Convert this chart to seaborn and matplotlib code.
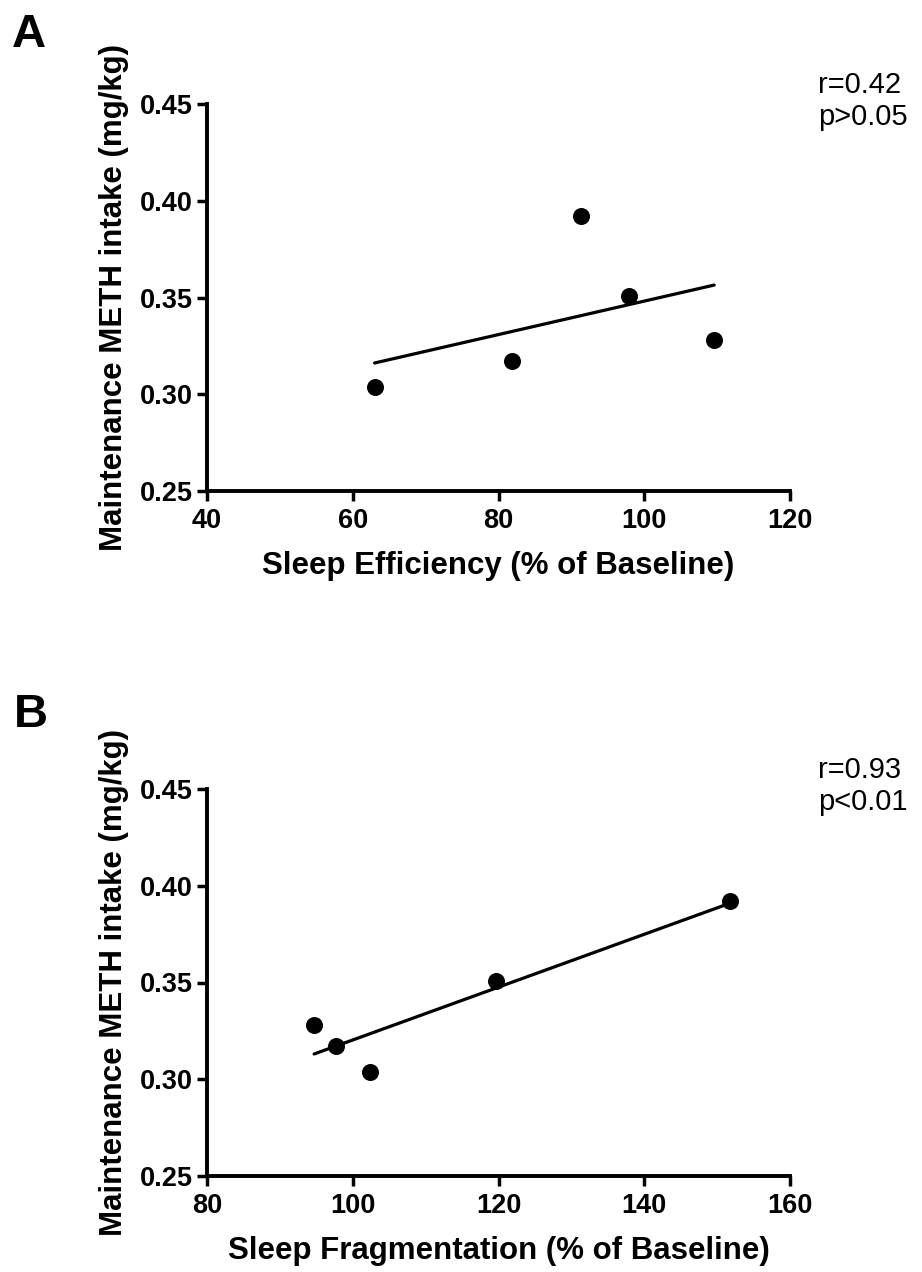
import pandas as pd
import seaborn as sns
import matplotlib.pyplot as plt

# values
meth_intake = [0.304, 0.317, 0.392, 0.351, 0.328]
sleep_efficiency = [63.0, 81.9, 91.3, 97.9, 109.6]
sleep_fragmentation = [102.4, 97.7, 151.8, 119.7, 94.7]

stats_a = ['r=0.42', 'p>0.05']
stats_b = ['r=0.93', 'p<0.01']

df = pd.DataFrame({'meth': meth_intake,
                   'efficiency': sleep_efficiency,
                   'fragmentation': sleep_fragmentation})

sns.set_style('ticks')
plt.rcParams['font.family'] = ['Liberation Sans', 'DejaVu Sans']
plt.rcParams['text.color'] = 'black'
plt.rcParams['axes.labelcolor'] = 'black'
plt.rcParams['xtick.color'] = 'black'
plt.rcParams['ytick.color'] = 'black'

fig = plt.figure(figsize=(9.22, 12.72), dpi=100)
ax_a = fig.add_axes([207 / 922, 1 - 491 / 1272, 583 / 922, 387 / 1272])
ax_b = fig.add_axes([207 / 922, 1 - 1176 / 1272, 583 / 922, 387 / 1272])

panels = [
    (ax_a, 'efficiency', 'Sleep Efficiency (% of Baseline)', (40, 120), [40, 60, 80, 100, 120], stats_a, 0),
    (ax_b, 'fragmentation', 'Sleep Fragmentation (% of Baseline)', (80, 160), [80, 100, 120, 140, 160], stats_b, 685),
]

for ax, col, xlabel, xlim, xticks, stats, dy in panels:
    sns.regplot(data=df, x=col, y='meth', ax=ax, ci=None, color='black',
                scatter_kws={'s': 150, 'alpha': 1, 'linewidths': 0},
                line_kws={'linewidth': 2.3})
    ax.set_xlim(*xlim)
    ax.set_ylim(0.25, 0.45)
    ax.set_xticks(xticks)
    ax.set_yticks([0.25, 0.30, 0.35, 0.40, 0.45])
    ax.set_yticklabels(['0.25', '0.30', '0.35', '0.40', '0.45'])
    ax.set_xlabel(xlabel, fontsize=22.5, fontweight='bold', labelpad=12)
    ax.set_ylabel('Maintenance METH intake (mg/kg)', fontsize=22.5, fontweight='bold', labelpad=8)
    ax.tick_params(labelsize=19.5, width=2.5, length=7, color='black')
    ax.tick_params(axis='y', pad=3)
    ax.tick_params(axis='x', pad=5.5)
    for lab in ax.get_xticklabels() + ax.get_yticklabels():
        lab.set_fontweight('bold')
    for side in ['left', 'bottom']:
        ax.spines[side].set_linewidth(2.8)
        ax.spines[side].set_color('black')
    sns.despine(ax=ax)
    fig.text(818 / 922, 1 - (93 + dy) / 1272, stats[0], fontsize=21, ha='left', va='baseline')
    fig.text(818 / 922, 1 - (125 + dy) / 1272, stats[1], fontsize=21, ha='left', va='baseline')

fig.text(12 / 922, 1 - 47 / 1272, 'A', fontsize=34, fontweight='bold', ha='left', va='baseline')
fig.text(14 / 922, 1 - 727 / 1272, 'B', fontsize=34, fontweight='bold', ha='left', va='baseline')

fig.savefig('out.png', dpi=100)
